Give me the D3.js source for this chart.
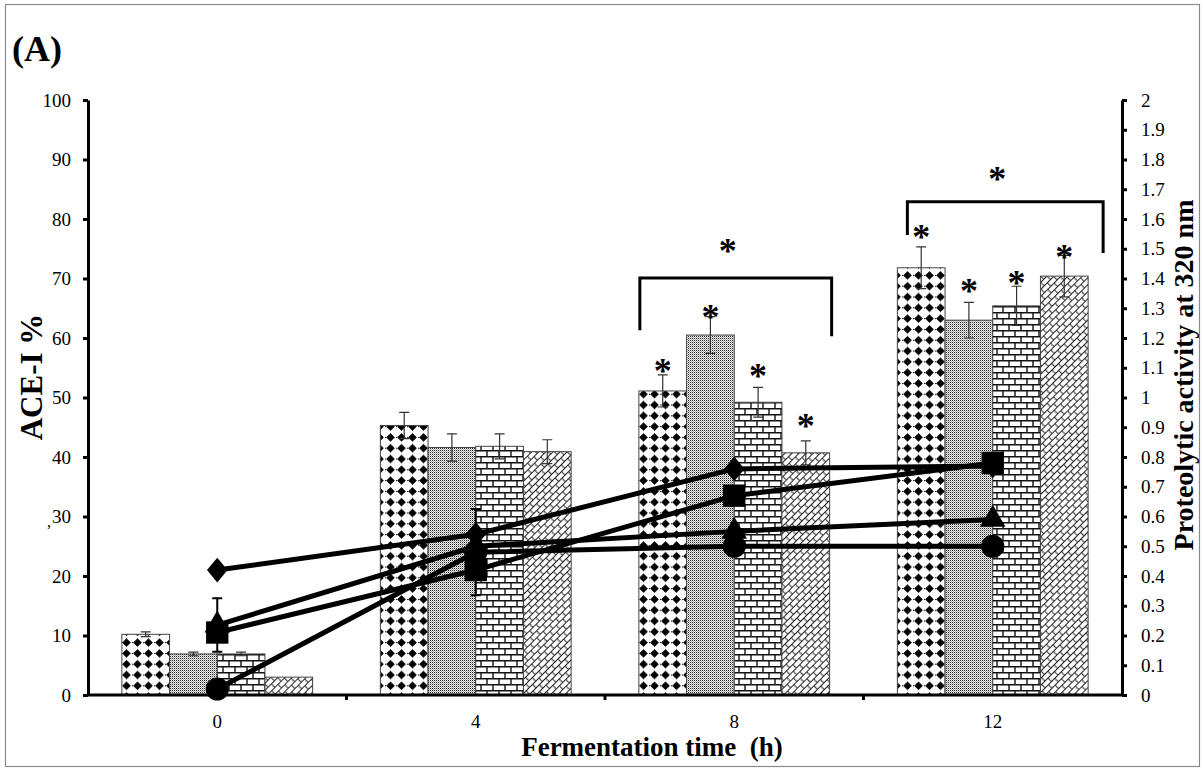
<!DOCTYPE html>
<html>
<head>
<meta charset="utf-8">
<script src="https://cdn.jsdelivr.net/npm/d3@7"></script>
<style>
  body { margin: 0; background: #fff; }
  svg text { font-family: "Liberation Serif", "Times New Roman", serif !important; }
</style>
</head>
<body>
<svg id="chart" width="1203" height="769"></svg>
<script>
// categories
const hours = ["0", "4", "8", "12"];
const barKeys = ["b1", "b2", "b3", "b4"];

// ACE-I % bars (left axis) and their errors
const ace1 = [10.2, 45.3, 51.1, 71.8];
const ace2 = [6.9, 41.6, 60.5, 63.0];
const ace3 = [6.9, 41.8, 49.2, 65.4];
const ace4 = [3.0, 40.9, 40.7, 70.4];
const aceErr1 = [0.4, 2.2, 2.7, 3.5];
const aceErr2 = [0.3, 2.3, 3.1, 3.0];
const aceErr3 = [0.3, 2.1, 2.5, 3.3];
const aceErr4 = [0, 2.0, 2.0, 3.5];
// height (ACE units) of the significance stars over each bar
const star1 = [null, null, 56.0, 78.5];
const star2 = [null, null, 65.0, 69.4];
const star3 = [null, null, 55.1, 70.8];
const star4 = [null, null, 46.7, 75.1];

// proteolytic activity lines (right axis)
const protDiamond = [0.42, 0.54, 0.76, 0.77];
const protSquare = [0.21, 0.42, 0.67, 0.78];
const protTriangle = [0.235, 0.50, 0.55, 0.59];
const protCircle = [0.02, 0.48, 0.50, 0.50];
const protErrTriangle = [0.09, 0, 0, 0];
const protErrCircle = [0, 0.145, 0, 0];

// group brackets: hour, bracket level, left/right leg ends, star level
const bracketHours = ["8", "12"];
const bracketTop = [70.1, 82.9];
const bracketLeftEnd = [61.3, 77.3];
const bracketRightEnd = [60.3, 74.3];
const bracketStar = [76.1, 88.2];

const leftTicks = d3.range(0, 101, 10);
const rightTicks = d3.range(0, 21).map(d => d / 10);

const svg = d3.select("#chart");
const x0L = 88, x0R = 1122, yTop = 100, yBot = 695;

const x0 = d3.scaleBand().domain(hours).range([x0L, x0R]);
const x1 = d3.scaleBand().domain(barKeys).range([0, x0.bandwidth()]).paddingOuter(0.71);
const y = d3.scaleLinear().domain([0, 100]).range([yBot, yTop]);
const y2 = d3.scaleLinear().domain([0, 2]).range([yBot, yTop]);

// outer frame
svg.append("rect").attr("x", 5.5).attr("y", 4.5).attr("width", 1194).attr("height", 762)
    .attr("fill", "none").attr("stroke", "#8a8a8a").attr("stroke-width", 1.2);

// fill patterns
const defs = svg.append("defs");
let p = defs.append("pattern").attr("id", "pDots").attr("patternUnits", "userSpaceOnUse")
    .attr("width", 11).attr("height", 10.8);
p.append("rect").attr("width", 11).attr("height", 10.8).attr("fill", "#fff");
p.append("path").attr("d", "M5.5,1.4 L9.5,5.4 L5.5,9.4 L1.5,5.4Z").attr("fill", "#000")
    .attr("stroke", "#000").attr("stroke-width", 0.6).attr("stroke-linejoin", "round");
p.append("rect").attr("x", 0).attr("y", 5).attr("width", 1.2).attr("height", 1).attr("fill", "#000");

p = defs.append("pattern").attr("id", "pFine").attr("patternUnits", "userSpaceOnUse")
    .attr("width", 2).attr("height", 2);
p.append("rect").attr("width", 2).attr("height", 2).attr("fill", "#f2f2f2");
p.append("rect").attr("width", 1).attr("height", 1).attr("fill", "#222");
p.append("rect").attr("x", 1).attr("y", 1).attr("width", 1).attr("height", 1).attr("fill", "#aaa");

p = defs.append("pattern").attr("id", "pBrick").attr("patternUnits", "userSpaceOnUse")
    .attr("width", 12).attr("height", 12);
p.append("rect").attr("width", 12).attr("height", 12).attr("fill", "#fff");
p.append("path").attr("d", "M0,0.8H12M0,6.8H12M1,0V6.8M7,6.8V12")
    .attr("stroke", "#111").attr("stroke-width", 1.4).attr("fill", "none");

// shingle: a small brick tiling turned by 45 degrees
p = defs.append("pattern").attr("id", "pWeave").attr("patternUnits", "userSpaceOnUse")
    .attr("width", 9).attr("height", 10).attr("patternTransform", "rotate(-45)");
p.append("rect").attr("width", 9).attr("height", 10).attr("fill", "#fff");
p.append("path").attr("d", "M0,0.5H9M0,5.5H9M1,0.5Q0,3 1,5.5M5.5,5.5Q4.5,8 5.5,10.5")
    .attr("stroke", "#222").attr("stroke-width", 1).attr("fill", "none");

const fills = ["url(#pDots)", "url(#pFine)", "url(#pBrick)", "url(#pWeave)"];
const aceVals = [ace1, ace2, ace3, ace4];
const aceErrs = [aceErr1, aceErr2, aceErr3, aceErr4];
const stars = [star1, star2, star3, star4];

const barData = [];
hours.forEach((h, i) => {
    barKeys.forEach((k, j) => {
        barData.push({ h, k, j, v: aceVals[j][i], e: aceErrs[j][i], s: stars[j][i] });
    });
});

// bars
svg.append("g").selectAll("rect").data(barData).join("rect")
    .attr("x", d => x0(d.h) + x1(d.k))
    .attr("y", d => y(d.v))
    .attr("width", x1.bandwidth())
    .attr("height", d => y(0) - y(d.v))
    .attr("fill", d => fills[d.j])
    .attr("stroke", "#444").attr("stroke-width", 1);

// bar error bars
const eb = svg.append("g").attr("stroke", "#333").attr("stroke-width", 1.2).attr("fill", "none");
barData.filter(d => d.e > 0).forEach(d => {
    const cx = x0(d.h) + x1(d.k) + x1.bandwidth() / 2;
    const t = y(d.v + d.e), b = y(d.v - d.e);
    eb.append("path").attr("d", `M${cx},${t}V${b}M${cx - 5},${t}H${cx + 5}M${cx - 5},${b}H${cx + 5}`);
});

// wide diamond marker as a d3 symbol type
const wideDiamond = {
    draw(ctx, size) {
        const h = Math.sqrt(size / 1.8);
        ctx.moveTo(0, -h * 1.2);
        ctx.lineTo(h, 0);
        ctx.lineTo(0, h * 1.2);
        ctx.lineTo(-h, 0);
        ctx.closePath();
    }
};

// lines
const xc = h => x0(h) + x0.bandwidth() / 2;
const lineSeries = [
    { v: protCircle, e: protErrCircle, sym: d3.symbolCircle, size: 420 },
    { v: protTriangle, e: protErrTriangle, sym: d3.symbolTriangle, size: 280 },
    { v: protSquare, e: null, sym: d3.symbolSquare, size: 500 },
    { v: protDiamond, e: null, sym: wideDiamond, size: 190 }
];
const line = d3.line().x((d, i) => xc(hours[i])).y(d => y2(d));
const lg = svg.append("g");
lineSeries.forEach(s => {
    lg.append("path").datum(s.v).attr("d", line)
        .attr("fill", "none").attr("stroke", "#000").attr("stroke-width", 5)
        .attr("stroke-linejoin", "round");
});
lineSeries.forEach(s => {
    if (s.e) {
        s.v.forEach((d, i) => {
            if (!s.e[i]) return;
            const cx = xc(hours[i]), t = y2(d + s.e[i]), b = y2(d - s.e[i]);
            lg.append("path").attr("d", `M${cx},${t}V${b}M${cx - 5},${t}H${cx + 5}M${cx - 5},${b}H${cx + 5}`)
                .attr("stroke", "#000").attr("stroke-width", 2).attr("fill", "none");
        });
    }
    lg.append("g").selectAll("path").data(s.v).join("path")
        .attr("transform", (d, i) => `translate(${xc(hours[i])},${y2(d)})`)
        .attr("d", d3.symbol().type(s.sym).size(s.size))
        .attr("fill", "#000");
});

// significance stars over bars
svg.append("g").selectAll("text").data(barData.filter(d => d.s != null)).join("text")
    .attr("x", d => x0(d.h) + x1(d.k) + x1.bandwidth() / 2)
    .attr("y", d => y(d.s) + 21)
    .attr("text-anchor", "middle")
    .attr("font-size", 36).attr("font-weight", "bold")
    .text("*");

// brackets
const bg = svg.append("g");
bracketHours.forEach((h, i) => {
    const l = x0(h) + x1("b1") + (i === 0 ? 1 : 10);
    const r = x0(h) + x1("b4") + x1.bandwidth() + (i === 0 ? 2 : 15);
    bg.append("path")
        .attr("d", `M${l},${y(bracketLeftEnd[i])}V${y(bracketTop[i])}H${r}V${y(bracketRightEnd[i])}`)
        .attr("fill", "none").attr("stroke", "#000").attr("stroke-width", 3);
    bg.append("text").attr("x", (l + r) / 2 - 8).attr("y", y(bracketStar[i]) + 21)
        .attr("text-anchor", "middle").attr("font-size", 36).attr("font-weight", "bold").text("*");
});

// axes
const styleAxis = g => {
    g.attr("font-family", null);
    g.select(".domain").attr("stroke-width", 3);
    g.selectAll(".tick line").attr("stroke-width", 3);
    g.selectAll(".tick text").attr("font-size", 19).attr("fill", "#000");
};
svg.append("g").attr("transform", `translate(${x0L},0)`)
    .call(d3.axisLeft(y).tickValues(leftTicks).tickSize(5).tickSizeOuter(0).tickPadding(12))
    .call(styleAxis);
svg.append("g").attr("transform", `translate(${x0R},0)`)
    .call(d3.axisRight(y2).tickValues(rightTicks).tickSize(5).tickSizeOuter(0).tickPadding(14)
        .tickFormat(d => String(+d.toFixed(1))))
    .call(styleAxis);
const xa = svg.append("g").attr("transform", `translate(0,${yBot})`)
    .call(d3.axisBottom(x0).tickSize(0).tickSizeOuter(0).tickPadding(20))
    .call(styleAxis);
xa.select(".domain").attr("d", `M${x0L},0H${x0R}`);
xa.selectAll(".bnd").data(hours.slice(1)).join("line").attr("class", "bnd")
    .attr("x1", d => x0(d)).attr("x2", d => x0(d)).attr("y1", 0).attr("y2", 5)
    .attr("stroke", "#000").attr("stroke-width", 3);

// titles
svg.append("text").attr("x", 12).attr("y", 61)
    .attr("font-size", 36).attr("font-weight", "bold").text("(A)");
svg.append("text").attr("transform", "translate(42,377) rotate(-90)")
    .attr("text-anchor", "middle").attr("font-size", 31).attr("font-weight", "bold")
    .text("ACE-I %");
svg.append("text").attr("x", 47).attr("y", 527).attr("font-size", 16).text(",");
svg.append("text").attr("transform", "translate(1193,375) rotate(-90)")
    .attr("text-anchor", "middle").attr("font-size", 28).attr("font-weight", "bold")
    .text("Proteolytic activity at 320 nm");
svg.append("text").attr("x", 652).attr("y", 756)
    .attr("text-anchor", "middle").attr("font-size", 27).attr("font-weight", "bold")
    .style("white-space", "pre")
    .text("Fermentation time  (h)");
</script>
</body>
</html>
